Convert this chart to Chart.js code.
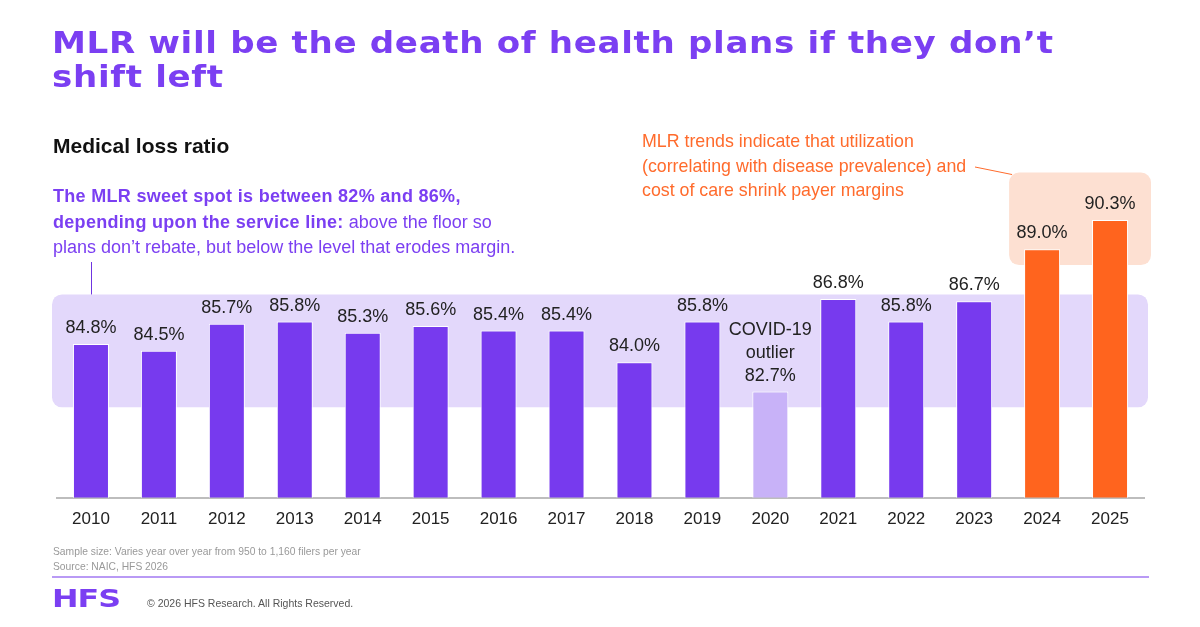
<!DOCTYPE html>
<html>
<head>
<meta charset="utf-8">
<script src="https://cdn.jsdelivr.net/npm/chart.js@4.4.1/dist/chart.umd.min.js"></script>
<style>
  html, body { margin: 0; padding: 0; background: #fff; }
  body { width: 1200px; height: 627px; position: relative; overflow: hidden; font-family: "Liberation Sans", Arial, sans-serif; }
  #chart { position: absolute; left: 0; top: 0; }
  .txt { position: absolute; white-space: nowrap; }
  .title { left: 52px; top: 25px; font-family: "DejaVu Sans", sans-serif; font-weight: bold; font-size: 31px; line-height: 34px; color: #7B3FF2; letter-spacing: 0.6px; transform: scaleX(1.1); transform-origin: left top; }
  .sub { left: 53px; top: 134px; font-size: 21px; font-weight: bold; color: #111; }
  .sweet { left: 53px; top: 184px; font-size: 18px; line-height: 25.5px; color: #7B3FF2; }
  .sweet b { font-weight: bold; letter-spacing: 0.3px; }
  .trend { left: 642px; top: 129px; font-size: 17.8px; line-height: 24.5px; color: #FF6B2C; }
  .note { left: 53px; top: 544px; font-size: 10.3px; line-height: 15px; color: #999; }
  .rule { position: absolute; left: 52px; top: 576px; width: 1097px; height: 2px; background: #B99AF5; }
  .logo { left: 52px; top: 584px; font-family: "DejaVu Sans", sans-serif; font-weight: bold; font-size: 25px; color: #7B3FF2; letter-spacing: -0.8px; transform: scaleX(1.27); transform-origin: left center; }
  .copy { left: 147px; top: 597px; font-size: 10.5px; color: #555; }
</style>
</head>
<body>
<canvas id="chart" width="1200" height="627"></canvas>

<div class="txt title">MLR will be the death of health plans if they don’t<br>shift left</div>
<div class="txt sub">Medical loss ratio</div>
<div class="txt sweet"><b>The MLR sweet spot is between 82% and 86%,</b><br><b>depending upon the service line:</b> above the floor so<br>plans don’t rebate, but below the level that erodes margin.</div>
<div class="txt trend">MLR trends indicate that utilization<br>(correlating with disease prevalence) and<br>cost of care shrink payer margins</div>
<div class="txt note">Sample size: Varies year over year from 950 to 1,160 filers per year<br>Source: NAIC, HFS 2026</div>
<div class="rule"></div>
<div class="txt logo">HFS</div>
<div class="txt copy">© 2026 HFS Research. All Rights Reserved.</div>

<script>
const years = ['2010', '2011', '2012', '2013', '2014', '2015', '2016', '2017', '2018', '2019', '2020', '2021', '2022', '2023', '2024', '2025'];
const mlr = [84.8, 84.5, 85.7, 85.8, 85.3, 85.6, 85.4, 85.4, 84.0, 85.8, 82.7, 86.8, 85.8, 86.7, 89.0, 90.3];
const barLabels = ['84.8%', '84.5%', '85.7%', '85.8%', '85.3%', '85.6%', '85.4%', '85.4%', '84.0%', '85.8%',
  'COVID-19\noutlier\n82.7%', '86.8%', '85.8%', '86.7%', '89.0%', '90.3%'];
const barColors = ['#773AEE', '#773AEE', '#773AEE', '#773AEE', '#773AEE', '#773AEE', '#773AEE', '#773AEE',
  '#773AEE', '#773AEE', '#C8B2F8', '#773AEE', '#773AEE', '#773AEE', '#FF641E', '#FF641E'];
const sweetBand = [82, 87];     // shaded band, in MLR %
const outlookBand = [88.3, 92.4]; // orange highlight behind 2024-2025

const bandsPlugin = {
  id: 'bands',
  beforeDatasetsDraw(chart) {
    const { ctx, chartArea, scales: { x, y } } = chart;
    ctx.save();
    // sweet spot band
    ctx.fillStyle = '#E3D8FB';
    ctx.beginPath();
    ctx.roundRect(chartArea.left - 5, y.getPixelForValue(sweetBand[1]), chartArea.right - chartArea.left + 9,
      y.getPixelForValue(sweetBand[0]) - y.getPixelForValue(sweetBand[1]), 10);
    ctx.fill();
    // 2024-2025 highlight
    ctx.fillStyle = '#FDE0D2';
    const bx = x.getPixelForValue(14) - 33;
    ctx.beginPath();
    ctx.roundRect(bx, y.getPixelForValue(outlookBand[1]), chartArea.right + 7 - bx,
      y.getPixelForValue(outlookBand[0]) - y.getPixelForValue(outlookBand[1]), 10);
    ctx.fill();
    // leader lines
    ctx.lineWidth = 1;
    ctx.strokeStyle = '#6F35E0';
    ctx.beginPath();
    ctx.moveTo(91.5, 262);
    ctx.lineTo(91.5, y.getPixelForValue(sweetBand[1]));
    ctx.stroke();
    ctx.strokeStyle = '#FF6B2C';
    ctx.beginPath();
    ctx.moveTo(975, 167);
    ctx.lineTo(bx + 3, y.getPixelForValue(outlookBand[1]) + 2);
    ctx.stroke();
    ctx.restore();
  }
};

const labelsPlugin = {
  id: 'barLabels',
  afterDatasetsDraw(chart) {
    const { ctx } = chart;
    const meta = chart.getDatasetMeta(0);
    ctx.save();
    ctx.font = '18px "Liberation Sans", Arial, sans-serif';
    ctx.fillStyle = '#222';
    ctx.textAlign = 'center';
    ctx.textBaseline = 'alphabetic';
    meta.data.forEach((bar, i) => {
      const lines = barLabels[i].split('\n');
      lines.forEach((line, j) => {
        ctx.fillText(line, bar.x, bar.y - 11 - (lines.length - 1 - j) * 23);
      });
    });
    ctx.restore();
  }
};

new Chart(document.getElementById('chart'), {
  type: 'bar',
  data: {
    labels: years,
    datasets: [{
      data: mlr,
      backgroundColor: barColors,
      borderColor: '#fff',
      borderWidth: 1,
      barPercentage: 0.53,
      categoryPercentage: 1,
    }],
  },
  options: {
    responsive: false,
    animation: false,
    events: [],
    layout: { padding: { left: 57, right: 56, top: 159, bottom: 93 } },
    plugins: { legend: { display: false }, tooltip: { enabled: false } },
    scales: {
      x: {
        grid: { display: false },
        border: { display: true, color: '#BDBDBD', width: 2 },
        ticks: { color: '#222', font: { family: '"Liberation Sans", Arial, sans-serif', size: 17 }, padding: 4 },
      },
      y: { display: false, min: 78, max: 93 },
    },
  },
  plugins: [bandsPlugin, labelsPlugin],
});
</script>
</body>
</html>
